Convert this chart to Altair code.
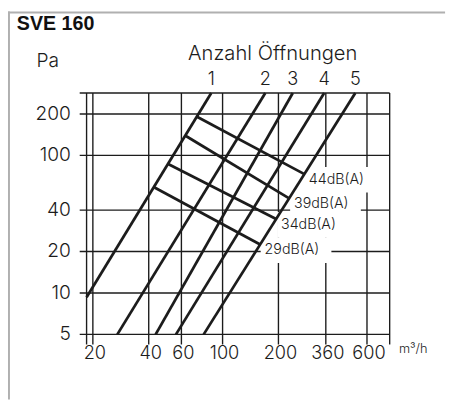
import altair as alt
import pandas as pd
import numpy as np

# ---------------- data ----------------
x_ticks = [20, 40, 60, 100, 200, 360, 600]
x_tick_labels = ["20", "40", "60", "100", "200", "360", "600"]
y_ticks = [5, 10, 20, 40, 100, 200]
y_tick_labels = ["5", "10", "20", "40", "100", "200"]
x_edges = [18.5, 795]          # left / right border of the plot (m3/h)
y_top = 284                    # top border of the plot (Pa)

line_ids = ["1", "2", "3", "4", "5"]
line_x_bottom = [18.5, 27.1, 43.6, 56.1, 79.1]
line_y_bottom = [9.3, 5, 5, 5, 5]
line_x_top = [86.9, 169.9, 238.9, 352.8, 519]
line_y_top = [284, 284, 284, 284, 284]

db_labels = ["44dB(A)", "39dB(A)", "34dB(A)", "29dB(A)"]
db_x_start = [72.4, 62.8, 50.9, 43.0]
db_y_start = [191.7, 139.5, 86.6, 58.4]
db_x_end = [274.3, 228.4, 194.3, 158.5]
db_y_end = [73.4, 48.7, 34.5, 22.6]

# ---------------- layout ----------------
W, H = 449, 395
INK = "#1c1c1c"
FONT = "Inter"
FW = 300

xs = alt.Scale(type="log", domain=[20, 600], range=[86.4, 365.5], nice=False)
ys = alt.Scale(type="log", domain=[5, 200], range=[328.7, 104.3], nice=False)

def X(f):
    return alt.X(f, type="quantitative", scale=xs, axis=None)

def Y(f):
    return alt.Y(f, type="quantitative", scale=ys, axis=None)

# tables
vgrid = pd.DataFrame({"xv": [x_edges[0]] + x_ticks + [x_edges[1]],
                      "yt": [y_top] * (len(x_ticks) + 2)})
hgrid = pd.DataFrame({"yv": y_ticks + [y_top],
                      "xr": [x_edges[1]] * (len(y_ticks) + 1)})
xlab = pd.DataFrame({"xv": x_ticks, "t": x_tick_labels})
ylab = pd.DataFrame({"yv": y_ticks, "t": y_tick_labels})

rows = []
for i, lid in enumerate(line_ids):
    rows.append({"id": lid, "x": line_x_bottom[i], "y": line_y_bottom[i], "o": 0})
    rows.append({"id": lid, "x": line_x_top[i], "y": line_y_top[i], "o": 1})
diag = pd.DataFrame(rows)
tops = pd.DataFrame({"id": line_ids, "x": line_x_top})

rows = []
for i, lab in enumerate(db_labels):
    rows.append({"id": lab, "x": db_x_start[i], "y": db_y_start[i], "o": 0})
    rows.append({"id": lab, "x": db_x_end[i], "y": db_y_end[i], "o": 1})
cross = pd.DataFrame(rows)
ends = pd.DataFrame({"id": db_labels, "x": db_x_end, "y": db_y_end})

# ---------------- layers ----------------
frame_top = alt.Chart(pd.DataFrame({"a": [0]})).mark_rule(color="#b0b0b0", strokeWidth=2).encode(
    x=alt.value(0), x2=alt.value(445), y=alt.value(1))
frame_left = alt.Chart(pd.DataFrame({"a": [0]})).mark_rule(color="#b0b0b0", strokeWidth=2).encode(
    x=alt.value(1), y=alt.value(0), y2=alt.value(H))

vrules = alt.Chart(vgrid).mark_rule(color=INK, strokeWidth=1.4).encode(
    x=X("xv"), y=Y("yt"), y2=alt.value(339))
hrules = alt.Chart(hgrid).mark_rule(color=INK, strokeWidth=1.4).encode(
    y=Y("yv"), x=X("xr"), x2=alt.value(73))

boxes = alt.Chart(ends).mark_rect(color="white", xOffset=1, x2Offset=73,
                                  yOffset=-7, y2Offset=19).encode(
    x=X("x"), x2=alt.X2("x"), y=Y("y"), y2=alt.Y2("y"))

diag_lines = alt.Chart(diag).mark_line(color=INK, strokeWidth=2.8).encode(
    x=X("x"), y=Y("y"), detail="id:N", order="o:Q")
cross_lines = alt.Chart(cross).mark_line(color=INK, strokeWidth=2.8).encode(
    x=X("x"), y=Y("y"), detail="id:N", order="o:Q")

db_text = alt.Chart(ends).mark_text(align="left", baseline="middle", dx=5, dy=6,
                                    font=FONT, fontWeight=FW, fontSize=14.5, color=INK).encode(
    x=X("x"), y=Y("y"), text="id:N")

top_text = alt.Chart(tops).mark_text(align="center", baseline="middle",
                                     font=FONT, fontWeight=FW, fontSize=18.5, color=INK).encode(
    x=X("x"), y=alt.value(69), text="id:N")

xlab_text = alt.Chart(xlab).mark_text(align="center", baseline="middle", dx=2,
                                      font=FONT, fontWeight=FW, fontSize=18.5, color=INK).encode(
    x=X("xv"), y=alt.value(348), text="t:N")
ylab_text = alt.Chart(ylab).mark_text(align="right", baseline="middle",
                                      font=FONT, fontWeight=FW, fontSize=19.5, color=INK).encode(
    y=Y("yv"), x=alt.value(64), text="t:N")

def label(txt, x, y, size, align="left", weight=FW, font=FONT):
    return alt.Chart(pd.DataFrame({"t": [txt]})).mark_text(
        align=align, baseline="alphabetic", font=font, fontSize=size,
        fontWeight=weight, color="#111" if weight == "bold" else INK).encode(
        x=alt.value(x), y=alt.value(y), text="t:N")

title = label("SVE 160", 9, 18.5, 20, weight="bold", font="Liberation Sans")
pa = label("Pa", 29, 56, 19.5)
anz = label("Anzahl Öffnungen", 269.5, 49.5, 20.5, align="center")
unit = label("m³/h", 398, 348, 13)

chart = alt.layer(
    frame_top, frame_left, vrules, hrules, boxes, diag_lines, cross_lines,
    db_text, top_text, xlab_text, ylab_text, title, pa, anz, unit
).properties(
    width=W, height=H, padding=0, autosize=alt.AutoSizeParams(type="none"),
    background="white"
).configure_view(stroke=None)

chart.save("out.html", embed_options={"renderer": "svg", "actions": False})
